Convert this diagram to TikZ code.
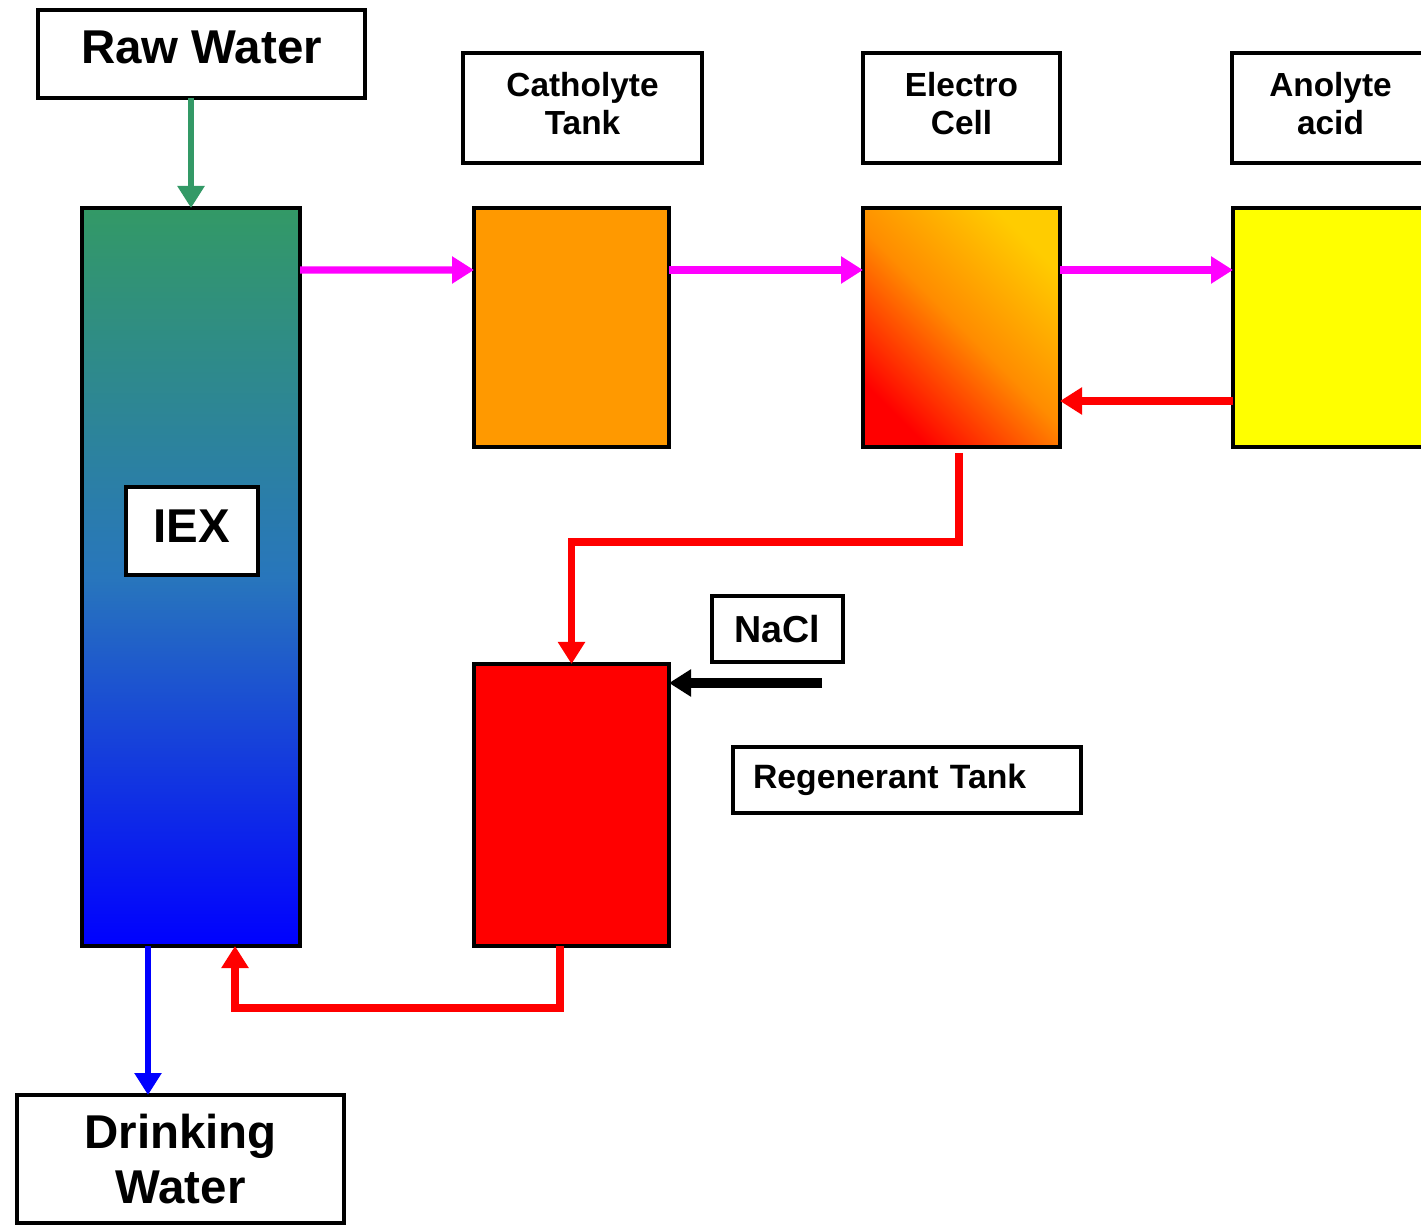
\documentclass[tikz,border=0pt]{standalone}
\usepackage{fontspec}
\setmainfont{Liberation Sans}
\usetikzlibrary{arrows.meta}
\definecolor{seagreen}{RGB}{51,153,102}
\definecolor{iexmid}{RGB}{40,118,188}
\definecolor{pureblue}{RGB}{0,0,255}
\definecolor{purered}{RGB}{255,0,0}
\definecolor{puremagenta}{RGB}{255,0,255}
\definecolor{pureyellow}{RGB}{255,255,0}
\definecolor{tankorange}{RGB}{255,153,0}
\definecolor{cellgold}{RGB}{255,204,0}
\definecolor{cellmid}{RGB}{255,140,0}
\tikzset{
    tank/.style = {draw, line width = 0.9pt, inner sep = 0pt, outer sep = 0pt},
    tag/.style = {draw, fill = white, line width = 0.9pt, inner sep = 0pt, outer sep = 0pt, align = center},
    pipe/.style = {line width = 2.1pt, -{Triangle[length = 0.22cm, width = 0.26cm]}}
}
\begin{document}
\begin{tikzpicture}
        \useasboundingbox (0,0) rectangle (14.21,-12.25);
        % vessels
        \node[tank, minimum width = 2.18cm, minimum height = 7.38cm, top color = seagreen, bottom color = pureblue, middle color = iexmid] (iex) at (1.91,-5.77) {};
        \node[tank, minimum width = 1.95cm, minimum height = 2.39cm, fill = tankorange] (cath) at (5.715,-3.275) {};
        \node[tank, minimum width = 1.97cm, minimum height = 2.39cm, bottom color = purered, top color = cellgold, middle color = cellmid, shading angle = -45] (cell) at (9.615,-3.275) {};
        \node[tank, minimum width = 1.97cm, minimum height = 2.39cm, fill = pureyellow] (ano) at (13.315,-3.275) {};
        \node[tank, minimum width = 1.95cm, minimum height = 2.82cm, fill = purered] (regen) at (5.715,-8.05) {};
        % labels
        \begin{scope}[every node/.append style = {font = \fontsize{13.5}{15.4}\selectfont\bfseries}]
            \node[tag, minimum width = 3.27cm, minimum height = 0.88cm, text depth = 0.14cm] (raw) at (2.015,-0.54) {Raw Water};
            \node[tag, minimum width = 1.32cm, minimum height = 0.88cm, text depth = 0.1cm] (iexname) at (1.92,-5.31) {IEX};
            \node[tag, minimum width = 3.27cm, minimum height = 1.28cm] (drink) at (1.805,-11.59) {Drinking\\Water};
        \end{scope}
        \begin{scope}[every node/.append style = {font = \fontsize{9.5}{10.8}\selectfont\bfseries, text depth = 0.09cm}]
            \node[tag, minimum width = 2.39cm, minimum height = 1.10cm] (cathname) at (5.825,-1.08) {Catholyte\\Tank};
            \node[tag, minimum width = 1.97cm, minimum height = 1.10cm] (cellname) at (9.615,-1.08) {Electro\\Cell};
            \node[tag, minimum width = 1.97cm, minimum height = 1.10cm] (anoname) at (13.305,-1.08) {Anolyte\\acid};
        \end{scope}
        \node[tag, minimum width = 1.31cm, minimum height = 0.66cm, font = \fontsize{10.7}{12}\selectfont\bfseries] (nacl) at (7.775,-6.29) {NaCl};
        \node[tag, minimum height = 0.66cm, inner xsep = 0.2cm, text width = 3.08cm, align = left, font = \fontsize{9.6}{11}\selectfont\bfseries] (regenname) at (9.07,-7.80) {Regenerant Tank};
        % flows
        \draw[pipe, seagreen, line width = 1.8pt] (raw.south -| iex.north) -- (iex.north);
        \begin{scope}[every path/.append style = {puremagenta}]
            \draw[pipe] ([yshift = -0.62cm]iex.north east) -- ([yshift = -0.62cm]cath.north west);
            \draw[pipe] ([yshift = -0.62cm]cath.north east) -- ([yshift = -0.62cm]cell.north west);
            \draw[pipe] ([yshift = -0.62cm]cell.north east) -- ([yshift = -0.62cm]ano.north west);
        \end{scope}
        \begin{scope}[every path/.append style = {purered}]
            \draw[pipe] ([yshift = 0.46cm]ano.south west) -- ([yshift = 0.46cm]cell.south east);
            \draw[pipe] ([xshift = -0.025cm, yshift = -0.06cm]cell.south) -- ++(0,-0.89) -| (regen.north);
            \draw[pipe] ([xshift = -0.115cm]regen.south) -- ++(0,-0.62) -| ([xshift = 0.44cm]iex.south);
        \end{scope}
        \coordinate (salt) at (8.22,-6.83);
        \draw[pipe, line width = 2.6pt] (salt) -- (salt -| regen.east);
        \draw[pipe, pureblue, line width = 1.8pt] ([xshift = -0.43cm]iex.south) -- ([xshift = -0.43cm]iex.south |- drink.north);
    \end{tikzpicture}
\end{document}
